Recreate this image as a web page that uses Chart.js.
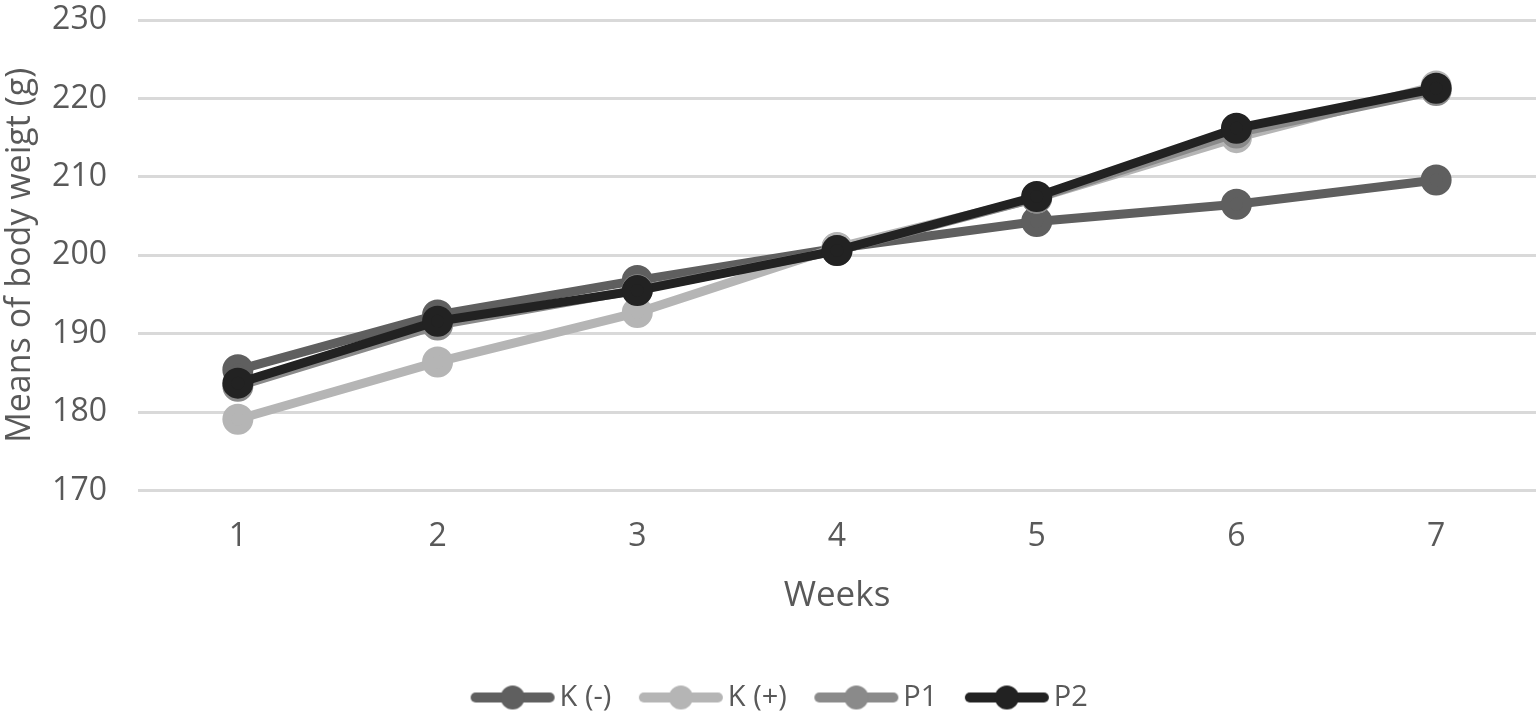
<!DOCTYPE html>
<html>
<head>
<meta charset="utf-8">
<script src="https://cdn.jsdelivr.net/npm/chart.js@4/dist/chart.umd.min.js"></script>
<style>
  html, body { margin: 0; padding: 0; background: #fff; }
  #wrap { width: 1537px; height: 717px; }
</style>
</head>
<body>
<div id="wrap"><canvas id="bodyChart"></canvas></div>
<script>
// Weeks on the x axis
const weeks = ['1', '2', '3', '4', '5', '6', '7'];

// Means of body weight (g)
const kMinus = [185.4, 192.4, 196.8, 200.9, 204.3, 206.5, 209.6];
const kPlus  = [179.1, 186.4, 192.7, 201.0, 207.3, 215.0, 221.6];
const p1     = [183.3, 191.1, 195.6, 200.6, 207.3, 215.6, 221.0];
const p2     = [183.7, 191.6, 195.5, 200.6, 207.5, 216.2, 221.3];

const yTicks = [170, 180, 190, 200, 210, 220, 230];

const textColor = '#595959';
const fontFamily = "'Open Sans', sans-serif";

// Excel style legend marker: a thick line with a dot, drawn toward the right
// of a wide canvas so it sits close to its label
function legendMarker(color) {
    const c = document.createElement('canvas');
    c.width = 122;
    c.height = 26;
    const g = c.getContext('2d');
    g.strokeStyle = color;
    g.lineWidth = 10;
    g.lineCap = 'round';
    g.beginPath();
    g.moveTo(40, 13);
    g.lineTo(114, 13);
    g.stroke();
    g.fillStyle = color;
    g.beginPath();
    g.arc(77, 13, 12, 0, Math.PI * 2);
    g.fill();
    return c;
}

function series(label, data, color, order) {
    return {
        label: label,
        data: data,
        borderColor: color,
        backgroundColor: color,
        pointBackgroundColor: color,
        pointBorderColor: color,
        borderWidth: 9,
        pointRadius: 11,
        pointHoverRadius: 11,
        tension: 0,
        order: order,
        marker: legendMarker(color)
    };
}

const ctx = document.getElementById('bodyChart').getContext('2d');

new Chart(ctx, {
    type: 'line',
    data: {
        labels: weeks,
        datasets: [
            series('K (-)', kMinus, '#5f5f5f', 4),
            series('K (+)', kPlus, '#b5b5b5', 3),
            series('P1', p1, '#8a8a8a', 2),
            series('P2', p2, '#222222', 1)
        ]
    },
    options: {
        responsive: true,
        maintainAspectRatio: false,
        animation: false,
        layout: { autoPadding: false, padding: { top: 4, right: 1, left: 0, bottom: -5 } },
        plugins: {
            tooltip: { enabled: false },
            legend: {
                position: 'bottom',
                labels: {
                    usePointStyle: true,
                    pointStyleWidth: 97,
                    boxHeight: 26,
                    padding: 5,
                    color: textColor,
                    font: { family: fontFamily, size: 29 },
                    sort: (a, b) => a.datasetIndex - b.datasetIndex,
                    generateLabels: (chart) => chart.data.datasets.map((ds, i) => ({
                        text: ds.label,
                        pointStyle: ds.marker,
                        fillStyle: ds.borderColor,
                        strokeStyle: ds.borderColor,
                        lineWidth: 0,
                        fontColor: textColor,
                        hidden: false,
                        datasetIndex: i
                    }))
                }
            }
        },
        scales: {
            x: {
                offset: true,
                grid: { display: false },
                border: { display: false },
                ticks: {
                    color: textColor,
                    font: { family: fontFamily, size: 32, lineHeight: 0.95 },
                    padding: 23
                },
                title: {
                    display: true,
                    text: 'Weeks',
                    color: textColor,
                    font: { family: fontFamily, size: 35 },
                    padding: { top: 0, bottom: 61 }
                }
            },
            y: {
                min: 170,
                max: 230,
                afterBuildTicks: (scale) => {
                    scale.ticks = yTicks.map(v => ({ value: v }));
                },
                afterFit: (scale) => {
                    scale.width = 138;
                    scale.paddingTop = 20;
                    scale.paddingBottom = 0;
                },
                grid: { color: '#d9d9d9', lineWidth: 3, drawTicks: false },
                border: { display: false },
                ticks: {
                    color: textColor,
                    font: { family: fontFamily, size: 32 },
                    padding: 31
                },
                title: {
                    display: true,
                    text: 'Means of body weigt (g)',
                    color: textColor,
                    font: { family: fontFamily, size: 34 },
                    padding: 0
                }
            }
        }
    }
});
</script>
</body>
</html>
